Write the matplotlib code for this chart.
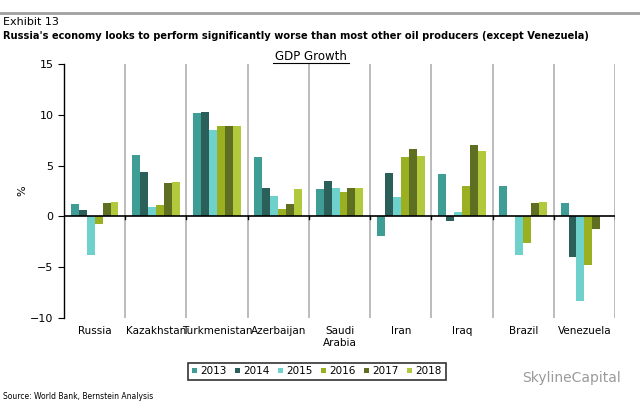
import numpy as np
import matplotlib.pyplot as plt

# ---------------------------
# DATA
# ---------------------------
countries = ["Russia", "Kazakhstan", "Turkmenistan", "Azerbaijan", "Saudi\nArabia",
             "Iran", "Iraq", "Brazil", "Venezuela"]
years = ["2013", "2014", "2015", "2016", "2017", "2018"]

g2013 = [1.2, 6.0, 10.2, 5.8, 2.7, -1.9, 4.2, 3.0, 1.3]
g2014 = [0.6, 4.4, 10.3, 2.8, 3.5, 4.3, -0.5, 0.0, -4.0]
g2015 = [-3.8, 0.9, 8.5, 2.0, 2.8, 1.9, 0.4, -3.8, -8.3]
g2016 = [-0.7, 1.1, 8.9, 0.7, 2.4, 5.8, 3.0, -2.6, -4.8]
g2017 = [1.3, 3.3, 8.9, 1.2, 2.8, 6.6, 7.0, 1.3, -1.2]
g2018 = [1.4, 3.4, 8.9, 2.7, 2.8, 5.9, 6.4, 1.4, 0.0]
series = [g2013, g2014, g2015, g2016, g2017, g2018]

colors = ["#3e9e95", "#2b605a", "#6fd1cb", "#9bb021", "#5f6f22", "#b3c93d"]

# ---------------------------
# FIGURE
# ---------------------------
fig = plt.figure(figsize=(6.4, 4.09), dpi=100)
ax = fig.add_axes([0.1, 0.2225, 0.861, 0.621])

x = np.arange(len(countries))
w = 0.13
for i, (vals, col, yr) in enumerate(zip(series, colors, years)):
    ax.bar(x + (i - 2.5) * w, vals, width=w, color=col, label=yr, zorder=3)

# category separators
for b in np.arange(1, len(countries) + 1) - 0.5:
    ax.axvline(b, color="#b0b0b0", lw=1.2, zorder=1)
    ax.plot([b, b], [-0.25, 0], color="black", lw=1, zorder=4)
ax.axhline(0, color="black", lw=1.2, zorder=4)

ax.set_xlim(-0.5, len(countries) - 0.5)
ax.set_ylim(-10, 15)
ax.set_yticks([-10, -5, 0, 5, 10, 15])
ax.tick_params(axis="y", labelsize=8, length=4)
ax.set_xticks(x)
ax.set_xticklabels(countries, fontsize=7.5)
ax.tick_params(axis="x", length=0, pad=6)
for s in ["top", "right", "bottom"]:
    ax.spines[s].set_visible(False)
ax.spines["left"].set_linewidth(1.0)
ax.set_ylabel("%", fontsize=8)
ax.yaxis.set_label_coords(-0.067, 0.5)

# underlined chart title
fig.text(0.486, 0.862, "GDP Growth", fontsize=8.5, ha="center", va="center")
fig.add_artist(plt.Line2D([0.427, 0.545], [0.847, 0.847], color="black", lw=0.8))

leg = ax.legend(loc="upper center", bbox_to_anchor=(0.459, -0.155), ncol=6,
                fontsize=7.5, frameon=True, fancybox=False, edgecolor="black",
                handlelength=0.5, handleheight=0.5, handletextpad=0.3,
                columnspacing=0.8, borderpad=0.35)
leg.get_frame().set_linewidth(1.2)

# header / footer texts
fig.add_artist(plt.Line2D([0, 1], [0.968, 0.968], color="#a0a0a0", lw=2))
fig.text(0.005, 0.945, "Exhibit 13", fontsize=8, va="center")
fig.text(0.005, 0.913, "Russia's economy looks to perform significantly worse than most other oil producers (except Venezuela)",
         fontsize=7.1, fontweight="bold", va="center")
fig.text(0.005, 0.03, "Source: World Bank, Bernstein Analysis", fontsize=5.5, va="center")
fig.text(0.97, 0.076, "SkylineCapital", fontsize=10, color="#9a9a9a", ha="right", va="center")

fig.savefig("out.png", dpi=100)
